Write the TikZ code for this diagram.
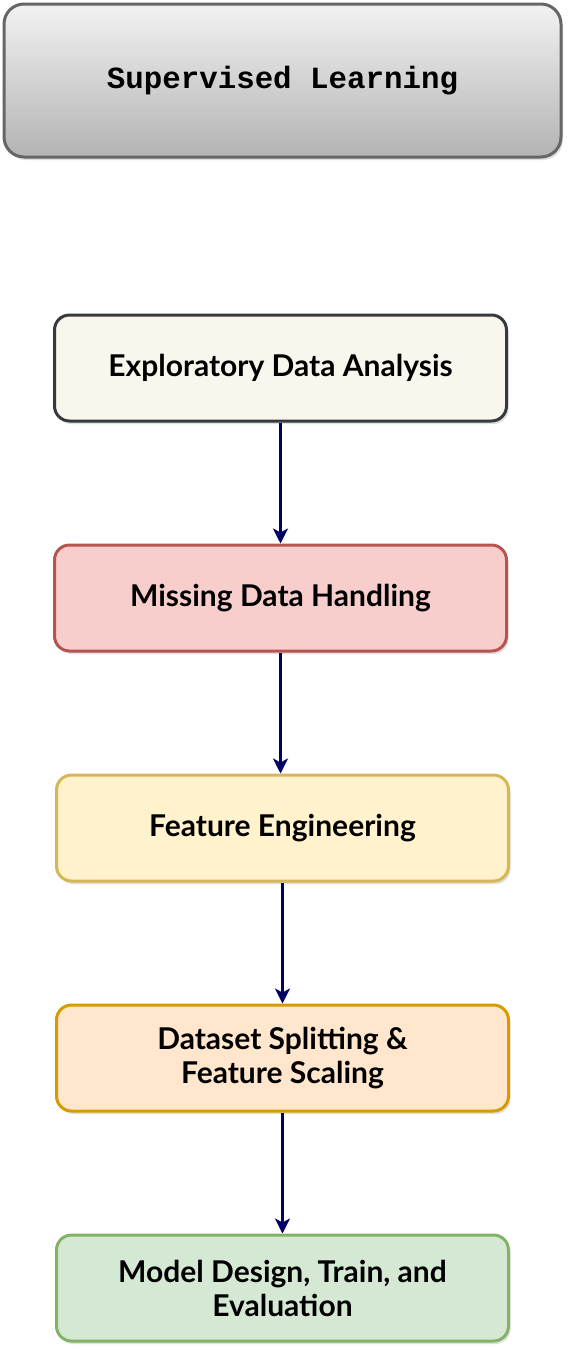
\documentclass[tikz,border=0pt]{standalone}
\usepackage{fontspec}
\setmainfont{Lato}
\newfontfamily\titlefont{Liberation Mono}
\usetikzlibrary{positioning, shadows, arrows.meta}

\definecolor{titleedge}{HTML}{666666}
\definecolor{titletop}{HTML}{F2F2F2}
\definecolor{titlebottom}{HTML}{B3B3B3}
\definecolor{edafill}{HTML}{F9F7ED}
\definecolor{edaedge}{HTML}{36393D}
\definecolor{missfill}{HTML}{F8CECC}
\definecolor{missedge}{HTML}{B85450}
\definecolor{featfill}{HTML}{FFF2CC}
\definecolor{featedge}{HTML}{D6B656}
\definecolor{splitfill}{HTML}{FFE6CC}
\definecolor{splitedge}{HTML}{D79B00}
\definecolor{modelfill}{HTML}{D5E8D4}
\definecolor{modeledge}{HTML}{82B366}
\definecolor{flowline}{HTML}{000066}

\begin{document}
\begin{tikzpicture}[x=1pt, y=1pt,
        boxshadow/.style={drop shadow={opacity=0.25, shadow xshift=2pt, shadow yshift=-3pt}},
        headbox/.style={draw=titleedge, line width=3pt, rounded corners=20pt, boxshadow,
            top color=titletop, bottom color=titlebottom,
            minimum width=557pt, minimum height=153pt,
            font=\titlefont\bfseries\fontsize{30.8}{36}\selectfont},
        stage/.style={line width=3pt, rounded corners=15pt, boxshadow,
            minimum width=452pt, minimum height=106pt, align=center,
            font=\bfseries\fontsize{30}{34}\selectfont},
        flow/.style={draw=flowline, line width=3.5pt, -{Stealth[length=15pt, width=15pt, inset=4pt]}},
        thinflow/.style={flow, line width=3pt}]

        \useasboundingbox (0,0) rectangle (575,-1355);

        \node[headbox] (sl) at (282.5,-80.5) {Supervised Learning};

        \node[stage, draw=edaedge, fill=edafill, below=155pt of sl, xshift=-2pt] (eda)
            {Exploratory Data Analysis};
        \node[stage, draw=missedge, fill=missfill, below=121pt of eda] (miss)
            {Missing Data Handling};
        \node[stage, draw=featedge, fill=featfill, below=121pt of miss, xshift=2pt] (feat)
            {Feature Engineering};
        \node[stage, draw=splitedge, fill=splitfill, below=121pt of feat] (split)
            {Dataset Splitting \&\\ Feature Scaling};
        \node[stage, draw=modeledge, fill=modelfill, below=121pt of split] (model)
            {Model Design, Train, and\\ Evaluation};

        % arrows between the stages
        \draw[flow] (eda) -- (miss);
        \draw[flow] (miss) -- (miss |- feat.north);
        \draw[thinflow] (feat) -- (split);
        \draw[thinflow] (split) -- (model);
\end{tikzpicture}
\end{document}
